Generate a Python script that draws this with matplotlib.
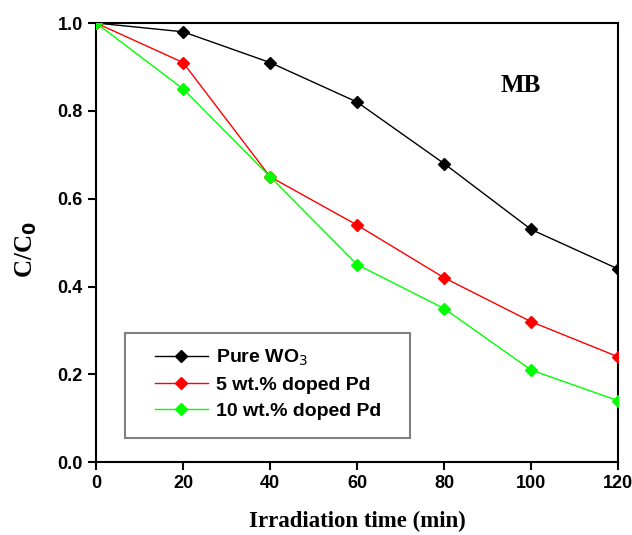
import numpy as np
import matplotlib.pyplot as plt
from matplotlib.patches import Rectangle

time = [0, 20, 40, 60, 80, 100, 120]
pure_wo3 = [1.0, 0.98, 0.91, 0.82, 0.68, 0.53, 0.44]
pd_5 = [1.0, 0.91, 0.65, 0.54, 0.42, 0.32, 0.24]
pd_10 = [1.0, 0.85, 0.65, 0.45, 0.35, 0.21, 0.14]
labels = ['Pure WO$_3$', '5 wt.% doped Pd', '10 wt.% doped Pd']

fig = plt.figure(figsize=(6.32, 5.35), dpi=100)
ax = fig.add_axes([0.152, 0.136, 0.826, 0.821])

ax.plot(time, pure_wo3, color='black', marker='D', markersize=6.5, lw=1, label=labels[0], zorder=3)
ax.plot(time, pd_5, color='#ff0000', marker='D', markersize=6.5, lw=1, label=labels[1], zorder=3)
ax.plot(time, pd_10, color='#00ff00', marker='D', markersize=6.5, lw=1, label=labels[2], zorder=3)

ax.set_xlim(0, 120)
ax.set_ylim(0, 1.0)
ax.set_xticks(np.arange(0, 121, 20))
ax.set_yticks(np.arange(0, 1.01, 0.2))
ax.set_yticklabels(['0.0', '0.2', '0.4', '0.6', '0.8', '1.0'])
ax.tick_params(direction='out', length=6, width=1.5, labelsize=13, top=False, right=False)
for lab in ax.get_xticklabels() + ax.get_yticklabels():
    lab.set_fontweight('bold')
    lab.set_family('Liberation Sans')
for s in ax.spines.values():
    s.set_linewidth(1.5)

ax.set_xlabel('Irradiation time (min)', fontsize=16.5, fontweight='bold', family='Liberation Serif', labelpad=13)
ax.set_ylabel('C/C$_\\mathbf{0}$', fontsize=18, fontweight='bold', family='Liberation Serif')
ax.yaxis.set_label_coords(-0.11, 0.485)
ax.text(0.775, 0.843, 'MB', transform=ax.transAxes, fontsize=18, fontweight='bold', family='Liberation Serif')

# legend box drawn separately (wider side padding than vertical)
ax.add_patch(Rectangle((0.055, 0.055), 0.546, 0.239, transform=ax.transAxes, fill=False,
                       edgecolor='gray', lw=1.5, zorder=4))
leg = ax.legend(loc='center left', bbox_to_anchor=(0.113, 0.178), frameon=False,
                prop={'family': 'Liberation Sans', 'weight': 'bold', 'size': 14},
                borderpad=0, handlelength=2.7, labelspacing=0.42, borderaxespad=0, handletextpad=0.45)

fig.savefig('out.png', dpi=100)
